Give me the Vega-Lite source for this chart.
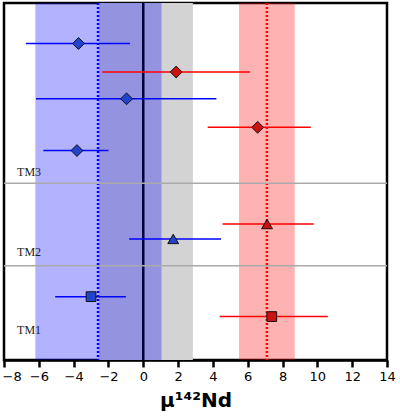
{
  "$schema": "https://vega.github.io/schema/vega-lite/v6.json",
  "autosize": "none",
  "width": 383,
  "height": 357,
  "padding": {"left": 4, "top": 3, "right": 13, "bottom": 56},
  "datasets": {
    "bands": [
      {"kind": "gray", "lo": -2.55, "hi": 2.85},
      {"kind": "blue", "lo": -6.2, "hi": 1.05},
      {"kind": "red", "lo": 5.5, "hi": 8.7}
    ],
    "means": [
      {"kind": "blue", "x": -2.6},
      {"kind": "red", "x": 7.1}
    ],
    "dividers": [
      {"y": 5.94},
      {"y": 3.17}
    ],
    "labels": [
      {"name": "TM3", "x": -7.25, "y": 6.33},
      {"name": "TM2", "x": -7.25, "y": 3.64},
      {"name": "TM1", "x": -7.25, "y": 1.0}
    ],
    "samples": [
      {"group": "blue", "shape": "diamond", "mu": -3.72, "lo": -6.74, "hi": -0.77, "y": 10.64},
      {"group": "red", "shape": "diamond", "mu": 1.89, "lo": -2.35, "hi": 6.13, "y": 9.68},
      {"group": "blue", "shape": "diamond", "mu": -0.96, "lo": -6.16, "hi": 4.2, "y": 8.78},
      {"group": "red", "shape": "diamond", "mu": 6.57, "lo": 3.7, "hi": 9.62, "y": 7.82},
      {"group": "blue", "shape": "diamond", "mu": -3.81, "lo": -5.74, "hi": -2.0, "y": 7.04},
      {"group": "red", "shape": "triangle", "mu": 7.11, "lo": 4.55, "hi": 9.79, "y": 4.57},
      {"group": "blue", "shape": "triangle", "mu": 1.72, "lo": -0.81, "hi": 4.47, "y": 4.07},
      {"group": "blue", "shape": "square", "mu": -3.0, "lo": -5.06, "hi": -1.0, "y": 2.13},
      {"group": "red", "shape": "square", "mu": 7.38, "lo": 4.39, "hi": 10.6, "y": 1.46}
    ]
  },
  "encoding": {
    "x": {
      "type": "quantitative",
      "scale": {"domain": [-8, 14], "nice": false, "zero": false},
      "axis": {
        "title": "μ¹⁴²Nd",
        "values": [-8, -6, -4, -2, 0, 2, 4, 6, 8, 10, 12, 14],
        "grid": false,
        "domainColor": "black",
        "domainWidth": 2.5,
        "tickColor": "black",
        "tickWidth": 2.5,
        "tickSize": 7,
        "labelFont": "DejaVu Sans",
        "labelFontSize": 13,
        "labelColor": "black",
        "labelPadding": 3,
        "labelFlush": false,
        "labelAlign": {"condition": {"test": "datum.value == -8", "value": "left"}, "value": "center"},
        "labelOffset": {"condition": {"test": "datum.value == -8", "value": -2}, "value": 0},
        "titleFont": "DejaVu Sans",
        "titleFontSize": 20,
        "titleFontWeight": "bold",
        "titleColor": "black",
        "titlePadding": 7
      }
    }
  },
  "layer": [
    {
      "data": {"name": "bands"},
      "transform": [{"filter": "datum.kind == 'gray'"}],
      "mark": {"type": "rect", "color": "#d3d3d3"},
      "encoding": {"x": {"field": "lo", "type": "quantitative"}, "x2": {"field": "hi"}}
    },
    {
      "data": {"name": "bands"},
      "transform": [{"filter": "datum.kind != 'gray'"}],
      "mark": {"type": "rect", "opacity": 0.3},
      "encoding": {
        "x": {"field": "lo", "type": "quantitative"},
        "x2": {"field": "hi"},
        "color": {"field": "kind", "type": "nominal", "scale": {"domain": ["blue", "red"], "range": ["#0000ff", "#ff0000"]}, "legend": null}
      }
    },
    {
      "data": {"name": "means"},
      "mark": {"type": "rule", "strokeDash": [2, 2], "strokeWidth": 2.5},
      "encoding": {
        "x": {"field": "x", "type": "quantitative"},
        "color": {"field": "kind", "type": "nominal", "scale": {"domain": ["blue", "red"], "range": ["#5555ff", "#ff5a5a"]}, "legend": null}
      }
    },
    {
      "data": {"values": [{"x": 0}]},
      "mark": {"type": "rule", "color": "#00003a", "strokeWidth": 2.5},
      "encoding": {"x": {"field": "x", "type": "quantitative"}}
    },
    {
      "data": {"name": "dividers"},
      "mark": {"type": "rule", "color": "#aaaaaa", "strokeWidth": 1.5},
      "encoding": {"y": {"field": "y", "type": "quantitative", "scale": {"domain": [0, 12], "nice": false}, "axis": null}}
    },
    {
      "data": {"name": "labels"},
      "mark": {"type": "text", "align": "left", "baseline": "middle", "font": "Liberation Serif", "fontSize": 12, "color": "#222222"},
      "encoding": {
        "x": {"field": "x", "type": "quantitative"},
        "y": {"field": "y", "type": "quantitative", "scale": {"domain": [0, 12], "nice": false}, "axis": null},
        "text": {"field": "name"}
      }
    },
    {
      "data": {"name": "samples"},
      "mark": {"type": "rule", "strokeWidth": 1.5},
      "encoding": {
        "x": {"field": "lo", "type": "quantitative"},
        "x2": {"field": "hi"},
        "y": {"field": "y", "type": "quantitative", "scale": {"domain": [0, 12], "nice": false}, "axis": null},
        "color": {"field": "group", "type": "nominal", "scale": {"domain": ["blue", "red"], "range": ["#3a5fd0", "#d23038"]}, "legend": null}
      }
    },
    {
      "data": {"name": "samples"},
      "mark": {"type": "point", "filled": true, "opacity": 1, "stroke": "#111111", "strokeWidth": 1},
      "encoding": {
        "x": {"field": "mu", "type": "quantitative"},
        "y": {"field": "y", "type": "quantitative", "scale": {"domain": [0, 12], "nice": false}, "axis": null},
        "shape": {"field": "shape", "type": "nominal", "scale": {"domain": ["diamond", "triangle", "square"], "range": ["diamond", "triangle-up", "square"]}, "legend": null},
        "size": {"field": "shape", "type": "nominal", "scale": {"domain": ["diamond", "triangle", "square"], "range": [140, 95, 100]}, "legend": null},
        "fill": {"field": "group", "type": "nominal", "scale": {"domain": ["blue", "red"], "range": ["#2244cc", "#cc1111"]}, "legend": null}
      }
    }
  ],
  "config": {
    "view": {"stroke": "black", "strokeWidth": 2.5}
  }
}
